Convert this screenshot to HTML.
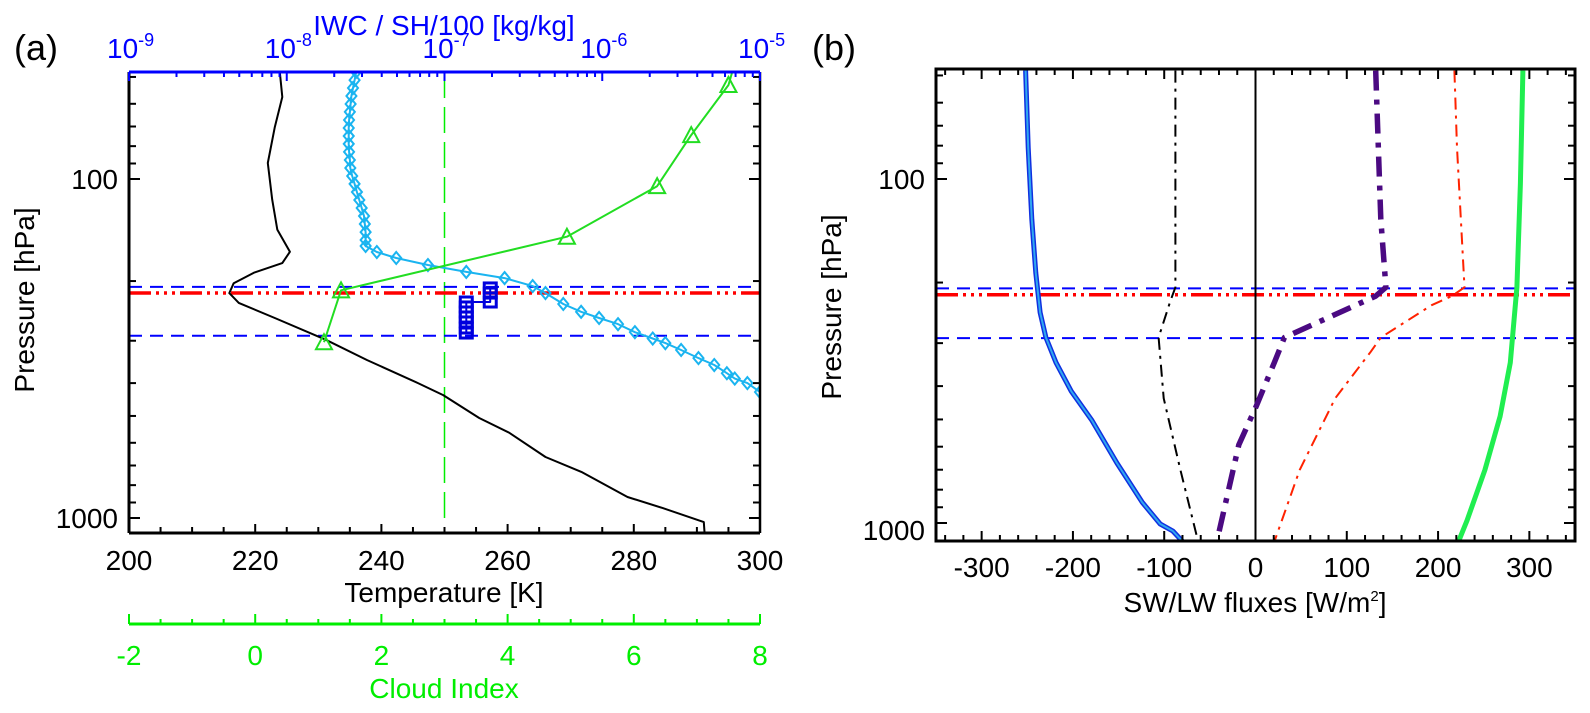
<!DOCTYPE html>
<html><head><meta charset="utf-8"><style>
html,body{margin:0;padding:0;background:#fff;}
svg{display:block;font-family:"Liberation Sans",sans-serif;}
</style></head><body>
<svg id="fig" width="1590" height="713" viewBox="0 0 1590 713" xmlns="http://www.w3.org/2000/svg"></svg>
<script>
// ---------- Panel (a) data ----------
const tempP = [48.3,57.3,70.3,89.7,115,141,164,177,189,203,217,232,257,298,342,400,434,507,561,661,731,867,935,1028,1100];
const tempK = [223.9,224.3,223.1,222.0,222.7,223.5,225.5,224.3,219.8,216.6,215.9,217.4,223.1,231.2,237.7,245.8,249.8,255.5,260.3,266.0,271.7,279.0,284.6,291.1,291.2];
const cloudP = [52.8,74.2,105,148,213,303];
const cloudIdx = [7.50,6.91,6.37,4.94,1.36,1.09];
const iwcP = [48.3,51.1,53.9,56.9,60.1,63.4,67.0,70.7,74.7,78.8,83.2,87.9,92.8,98.0,103.4,109.2,115.3,121.8,128.6,135.7,143.4,151.3,157.6,164.2,171,179.4,188,196,207,217,233.7,246.5,257,268,283,295.5,304.9,319.4,337.5,353.8,374,388,400,425];
const iwcLog = [-7.56,-7.57,-7.58,-7.59,-7.595,-7.60,-7.605,-7.607,-7.607,-7.607,-7.605,-7.60,-7.597,-7.585,-7.57,-7.555,-7.54,-7.525,-7.51,-7.505,-7.50,-7.50,-7.50,-7.429,-7.306,-7.105,-6.862,-6.619,-6.441,-6.36,-6.247,-6.134,-6.02,-5.90,-5.793,-5.68,-5.60,-5.50,-5.39,-5.29,-5.21,-5.16,-5.08,-5.0];
const shP = [209.6,217,230.6,230.6,238.5,246.8,255.4,264.1,275.1,284.7];
const shLog = [-6.71,-6.71,-6.71,-6.862,-6.862,-6.862,-6.862,-6.862,-6.862,-6.862];
const levelsP = [208,217,290];
const tempTicks = [200,220,240,260,280,300];
const cloudTicks = [-2,0,2,4,6,8];
const iwcTickExp = [-9,-8,-7,-6,-5];
// ---------- Panel (b) data ----------
const swNetP = [48.4,81,130.9,187.6,244.3,289,341.8,414.1,501.6,669.2,871.2,1006,1055,1134];
const swNet = [-251.8,-249,-245,-240.7,-236,-229.6,-218.5,-201.8,-179.5,-151.8,-124,-104.5,-90.6,-79.5];
const blackP = [48.4,206.5,227,289,434,701,1134];
const blackF = [-87.8,-87.8,-93.4,-106.2,-100.6,-82.3,-62.8];
const purpleP = [48.4,130.9,206.5,219,289,341.8,455.7,593,1081,1134];
const purpleF = [131.7,137.3,142.9,131.7,31.7,20.6,1.1,-18.3,-40.6,-41.7];
const redP = [48.4,81,206.5,219,232.7,289,317.9,434,701,1134];
const redF = [217.9,220.7,229,215.1,192.9,137.3,126.2,87.3,48.4,20.6];
const lwP = [48.4,103,206.5,341.8,489.7,701,982,1134];
const lwF = [292.9,290.2,286.3,279.1,268,251.3,231.8,222.3];
const fluxTicks = [-300,-200,-100,0,100,200,300];

const NS="http://www.w3.org/2000/svg";
const svg=document.getElementById('fig');
function mk(tag,attrs,parent){const e=document.createElementNS(NS,tag);for(const k in attrs)e.setAttribute(k,attrs[k]);(parent||svg).appendChild(e);return e;}
function txt(s,x,y,size,fill,anchor,parent){const t=mk('text',{x:x,y:y,'font-size':size,fill:fill,'text-anchor':anchor||'middle'},parent);t.textContent=s;return t;}

const A={l:129,r:760,t:72,b:533};
const B={l:936,r:1575,t:69,b:541};
const xT=T=>A.l+(T-200)*(A.r-A.l)/100;
const xC=c=>A.l+(c+2)*(A.r-A.l)/10;
const xL=lg=>A.l+(lg+9)*(A.r-A.l)/4;
const yA=p=>179+339*Math.log10(p/100);
const xF=f=>B.l+(f+350)*(B.r-B.l)/700;
const yB=p=>179+344*Math.log10(p/100);

const defs=mk('defs',{});
const ca=mk('clipPath',{id:'clipA'},defs);mk('rect',{x:A.l,y:A.t,width:A.r-A.l,height:A.b-A.t},ca);
const cb=mk('clipPath',{id:'clipB'},defs);mk('rect',{x:B.l,y:B.t,width:B.r-B.l,height:B.b-B.t},cb);

function polyline(xs,ys,attrs,parent){const pts=xs.map((x,i)=>x.toFixed(1)+','+ys[i].toFixed(1)).join(' ');return mk('polyline',Object.assign({points:pts,fill:'none','stroke-linejoin':'round'},attrs),parent);}

// ================= Panel A =================
const gA=mk('g',{'clip-path':'url(#clipA)'});

let e=mk('line',{x1:xT(250),x2:xT(250),y1:A.t,y2:A.b,stroke:'#00ee00','stroke-width':1.5,'stroke-dasharray':'26 9'},gA);

function levelLines(g,yf,L,R){
  [0,2].forEach(i=>{const l=mk('line',{x1:L,x2:R,y1:yf(levelsP[i]),y2:yf(levelsP[i]),stroke:'#0000ff','stroke-width':2,'stroke-dasharray':'13 8'},g);
    });
  const r=mk('line',{x1:L,x2:R,y1:yf(levelsP[1]),y2:yf(levelsP[1]),stroke:'#ff0000','stroke-width':3.5,'stroke-dasharray':'22 5 3 5 3 5 3 5'},g);
  
}
levelLines(gA,yA,A.l,A.r);
e=polyline(tempK.map(xT),tempP.map(yA),{stroke:'#000','stroke-width':2},gA);

e=polyline(iwcLog.map(xL),iwcP.map(yA),{stroke:'#1ab4f0','stroke-width':2},gA);

iwcLog.forEach((v,i)=>{const x=xL(v),y=yA(iwcP[i]);
  const d=mk('polygon',{points:`${x},${y-6} ${x+5},${y} ${x},${y+6} ${x-5},${y}`,fill:'none',stroke:'#1ab4f0','stroke-width':2},gA);
  });
e=polyline(shLog.map(xL),shP.map(yA),{stroke:'#0000dd','stroke-width':2},gA);

shLog.forEach((v,i)=>{const x=xL(v),y=yA(shP[i]);
  const s=mk('rect',{x:x-6,y:y-5,width:12,height:10,fill:'none',stroke:'#0000dd','stroke-width':3},gA);
  });
const cxs=cloudIdx.map(xC),cys=cloudP.map(yA);
e=polyline([xC(7.56)].concat(cxs),[A.t].concat(cys),{stroke:'#22dd22','stroke-width':2},gA);

cxs.forEach((x,i)=>{const y=cys[i];
  const t=mk('polygon',{points:`${x},${y-8} ${x+8},${y+7} ${x-8},${y+7}`,fill:'none',stroke:'#22dd22','stroke-width':2},gA);
  });

const axA=mk('g',{});
mk('line',{x1:A.l,x2:A.l,y1:A.t,y2:A.b,stroke:'#000','stroke-width':3},axA);
mk('line',{x1:A.r,x2:A.r,y1:A.t,y2:A.b,stroke:'#000','stroke-width':2.5},axA);
mk('line',{x1:A.l,x2:A.r,y1:A.b,y2:A.b,stroke:'#000','stroke-width':3},axA);
mk('line',{x1:A.l,x2:A.r,y1:A.t,y2:A.t,stroke:'#0000ff','stroke-width':3},axA);
function pTicks(g,yf,L,R,T,Bt){
  for(let dec of [10,100,1000]){for(let k=1;k<=9;k++){const p=dec*k;const y=yf(p);if(y<T+1||y>Bt-1)continue;
    const len=(k==1)?11:7;
    mk('line',{x1:L,x2:L+len,y1:y,y2:y,stroke:'#000','stroke-width':2},g);
    mk('line',{x1:R,x2:R-len,y1:y,y2:y,stroke:'#000','stroke-width':2},g);}}
}
pTicks(axA,yA,A.l,A.r,A.t,A.b);
for(let T=200;T<=300;T+=5){const x=xT(T);const len=(T%20==0)?9:6;mk('line',{x1:x,x2:x,y1:A.b,y2:A.b-len,stroke:'#000','stroke-width':2},axA);}
for(let d=-9;d<=-5;d++){for(let k=1;k<=9;k++){const lg=d+Math.log10(k);if(lg>-5)break;const x=xL(lg);const len=k==1?9:5;
  mk('line',{x1:x,x2:x,y1:A.t,y2:A.t+len,stroke:'#0000ff','stroke-width':2},axA);}}
tempTicks.forEach(T=>{const t=txt(String(T),xT(T),570,28,'#000');});
txt('100',118,189,28,'#000','end',axA);
txt('1000',118,528,28,'#000','end',axA);
iwcTickExp.forEach(ex=>{const x=xL(ex);const t=mk('text',{x:x-22,y:58,'font-size':28,fill:'#0000ff','text-anchor':'start'},axA);
  t.textContent='10';const s=mk('tspan',{dy:-12,'font-size':18},t);s.textContent=String(ex);
  });
const gx=mk('g',{});
mk('line',{x1:A.l,x2:A.r,y1:624,y2:624,stroke:'#00ee00','stroke-width':3},gx);
for(let c=-2;c<=8.001;c+=0.5){const x=xC(c);const len=(Math.abs(c%2)<0.01)?10:5;mk('line',{x1:x,x2:x,y1:624,y2:624-len,stroke:'#00ee00','stroke-width':2},gx);}
cloudTicks.forEach(c=>{const t=txt(String(c),xC(c),665,28,'#00ee00','middle',gx);});
e=txt('Cloud Index',444,698,28,'#00ee00');
e=txt('Temperature [K]',444,602,28,'#000');
e=txt('IWC / SH/100 [kg/kg]',444,35,28,'#0000ff');
e=txt('Pressure [hPa]',0,0,28,'#000');e.setAttribute('transform','translate(34,300) rotate(-90)');
e=txt('(a)',36,60,36,'#000');

// ================= Panel B =================
const gB=mk('g',{'clip-path':'url(#clipB)'});

levelLines(gB,yB,B.l,B.r);
e=mk('line',{x1:xF(0),x2:xF(0),y1:B.t,y2:B.b,stroke:'#000','stroke-width':2},gB);
e=polyline(swNet.map(xF),swNetP.map(yB),{stroke:'#1030e0','stroke-width':5},gB);
e=polyline(swNet.map(xF),swNetP.map(yB),{stroke:'#30a8f0','stroke-width':2},gB);
e=polyline(blackF.map(xF),blackP.map(yB),{stroke:'#000','stroke-width':2,'stroke-dasharray':'12 6 3 6'},gB);
e=polyline(purpleF.map(xF),purpleP.map(yB),{stroke:'#4b0a82','stroke-width':5.5,'stroke-dasharray':'20 9 5 9'},gB);
e=polyline(redF.map(xF),redP.map(yB),{stroke:'#ff2200','stroke-width':2,'stroke-dasharray':'12 6 3 6'},gB);
e=polyline(lwF.map(xF),lwP.map(yB),{stroke:'#20ee50','stroke-width':5},gB);

const axB=mk('g',{});
mk('rect',{x:B.l,y:B.t,width:B.r-B.l,height:B.b-B.t,fill:'none',stroke:'#000','stroke-width':3},axB);
pTicks(axB,yB,B.l,B.r,B.t,B.b);
for(let f=-340;f<=340;f+=20){const x=xF(f);const len=(f%100==0)?10:6;
  mk('line',{x1:x,x2:x,y1:B.b,y2:B.b-len,stroke:'#000','stroke-width':2},axB);
  mk('line',{x1:x,x2:x,y1:B.t,y2:B.t+len,stroke:'#000','stroke-width':2},axB);}
fluxTicks.forEach(f=>{const t=txt(String(f),xF(f),577,28,'#000');});
txt('100',925,189,28,'#000','end',axB);
txt('1000',925,540,28,'#000','end',axB);
e=mk('text',{x:1255,y:612,'font-size':28,fill:'#000','text-anchor':'middle'});e.textContent='SW/LW fluxes [W/m';
const sup=mk('tspan',{dy:-11,'font-size':15},e);sup.textContent='2';const cl=mk('tspan',{dy:11},e);cl.textContent=']';

e=txt('Pressure [hPa]',0,0,28,'#000');e.setAttribute('transform','translate(841,307) rotate(-90)');
e=txt('(b)',834,60,36,'#000');
</script>
</body></html>
